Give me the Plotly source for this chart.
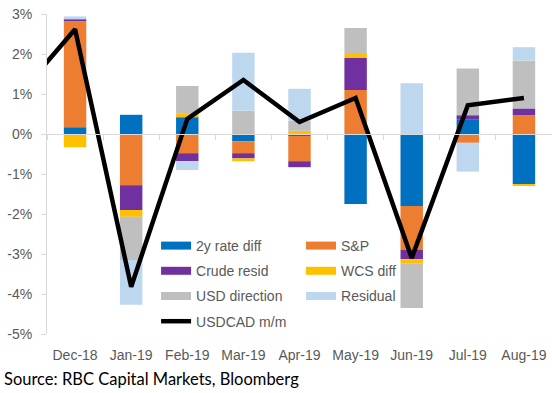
import plotly.graph_objects as go

months = ["Nov-18", "Dec-18", "Jan-19", "Feb-19", "Mar-19", "Apr-19", "May-19", "Jun-19", "Jul-19", "Aug-19"]
rate_2y = [None, 0.17, 0.48, 0.42, -0.18, -0.05, -1.75, -1.80, 0.37, -1.25]
sp = [None, 2.65, -1.28, -0.48, -0.30, -0.63, 1.10, -1.10, -0.22, 0.47]
crude = [None, 0.05, -0.62, -0.20, -0.13, -0.15, 0.80, -0.23, 0.10, 0.17]
wcs = [None, -0.33, -0.17, 0.10, -0.07, 0.08, 0.10, -0.10, 0.0, -0.03]
usd_dir = [None, 0.0, -1.08, 0.68, 0.58, 0.25, 0.65, -1.12, 1.17, 1.20]
residual = [None, 0.07, -1.12, -0.22, 1.45, 0.80, 0.0, 1.27, -0.72, 0.33]
usdcad = [0.98, 2.62, -3.82, 0.38, 1.35, 0.30, 0.90, -3.10, 0.72, 0.90]

ytick_vals = [-5, -4, -3, -2, -1, 0, 1, 2, 3]
ytick_text = ["-5%", "-4%", "-3%", "-2%", "-1%", "0%", "1%", "2%", "3%"]

series = [
    ("2y rate diff", rate_2y, "#0070C0", "legend"),
    ("S&P", sp, "#ED7D31", "legend2"),
    ("Crude resid", crude, "#7030A0", "legend"),
    ("WCS diff", wcs, "#FFC000", "legend2"),
    ("USD direction", usd_dir, "#BFBFBF", "legend"),
    ("Residual", residual, "#BDD7EE", "legend2"),
]

fig = go.Figure()
for name, vals, color, lg in series:
    fig.add_trace(go.Bar(x=months, y=vals, name=name, marker=dict(color=color, line=dict(width=0)),
                         legendgroup=name, showlegend=False))

fig.add_trace(go.Scatter(x=months, y=usdcad, mode="lines", name="USDCAD m/m",
                         line=dict(color="black", width=4.5), legendgroup="USDCAD m/m",
                         showlegend=False))

# legend entries (wide swatches like the original)
for name, vals, color, lg in series:
    fig.add_trace(go.Scatter(x=[None], y=[None], mode="lines", name=name,
                             line=dict(color=color, width=8), legendgroup=name, legend=lg))
fig.add_trace(go.Scatter(x=[None], y=[None], mode="lines", name="USDCAD m/m",
                         line=dict(color="black", width=4.5), legendgroup="USDCAD m/m", legend="legend"))

tick_font = dict(family="Arial, Liberation Sans", size=14, color="#595959")

fig.update_layout(
    width=552, height=393,
    margin=dict(l=47, r=0, t=14, b=59),
    paper_bgcolor="white", plot_bgcolor="white",
    barmode="relative", bargap=0.6,
    showlegend=True,
    legend=dict(x=0.216, y=0.325, xanchor="left", yanchor="top", font=tick_font,
                bgcolor="rgba(0,0,0,0)", tracegroupgap=4, itemclick=False),
    legend2=dict(x=0.503, y=0.325, xanchor="left", yanchor="top", font=tick_font,
                 bgcolor="rgba(0,0,0,0)", tracegroupgap=4, itemclick=False),
    xaxis=dict(type="category", categoryorder="array", categoryarray=months,
               range=[0.5, 9.5], anchor="free", position=0.625,
               showline=True, linecolor="#D9D9D9", linewidth=1,
               ticks="outside", ticklen=5, tickcolor="#D9D9D9", tickson="boundaries",
               tickfont=tick_font, ticklabelstandoff=208, showgrid=False, automargin=False),
    yaxis=dict(range=[-5, 3], tickvals=ytick_vals, ticktext=ytick_text,
               showline=True, linecolor="#D9D9D9", linewidth=1,
               ticks="outside", ticklen=5, tickcolor="#D9D9D9",
               tickfont=tick_font, ticklabelstandoff=6,
               showgrid=False, zeroline=False, automargin=False),
    annotations=[dict(text="Source: RBC Capital Markets, Bloomberg", xref="paper", yref="paper",
                      x=-45/505, y=-45/320, xanchor="left", yanchor="middle", showarrow=False,
                      font=dict(family="Lato", size=16.5, color="black"))],
)

fig.write_html("out.html", config={"displayModeBar": False},
               post_script="document.body.style.margin='0px';")
